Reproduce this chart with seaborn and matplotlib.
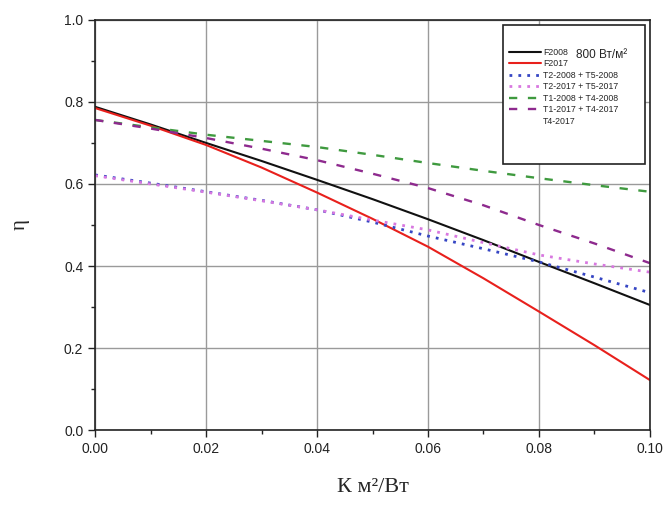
import numpy as np
import pandas as pd
import matplotlib
matplotlib.use("Agg")
import matplotlib.pyplot as plt
import seaborn as sns
from matplotlib.lines import Line2D
from matplotlib.patches import Rectangle
from matplotlib.ticker import MultipleLocator

sns.set_style("white")
plt.rcParams['font.family'] = ['Liberation Sans', 'DejaVu Sans']

# K, m2/W
k = [0.00, 0.01, 0.02, 0.03, 0.04, 0.05, 0.06, 0.07, 0.08, 0.09, 0.10]

f2008 = [0.788, 0.745, 0.700, 0.656, 0.610, 0.563, 0.514, 0.463, 0.410, 0.358, 0.305]
f2017 = [0.785, 0.742, 0.695, 0.640, 0.579, 0.515, 0.447, 0.370, 0.289, 0.207, 0.122]
t2t5_2008 = [0.622, 0.602, 0.581, 0.560, 0.537, 0.507, 0.473, 0.442, 0.410, 0.373, 0.335]
t2t5_2017 = [0.620, 0.600, 0.580, 0.559, 0.537, 0.512, 0.488, 0.457, 0.427, 0.405, 0.385]
t1t4_2008 = [0.756, 0.738, 0.720, 0.705, 0.690, 0.671, 0.651, 0.632, 0.614, 0.597, 0.581]
t1t4_2017 = [0.756, 0.735, 0.712, 0.686, 0.658, 0.625, 0.590, 0.548, 0.500, 0.455, 0.407]

names = ["F2008", "F2017", "T2-2008 + T5-2008", "T2-2017 + T5-2017",
         "T1-2008 + T4-2008", "T1-2017 + T4-2017"]
series = [f2008, f2017, t2t5_2008, t2t5_2017, t1t4_2008, t1t4_2017]
colors = ["#111111", "#e8201c", "#3646c4", "#d878e0", "#3f9a3f", "#8e2a8e"]
styles = ["-", "-", (0, (1, 2.2)), (0, (1, 2.2)), (0, (3.5, 4.5)), (0, (3.5, 4.5))]
widths = [1.5, 1.5, 2.0, 2.0, 1.7, 1.7]

fig = plt.figure(figsize=(6.7, 5.09), dpi=100)
ax = fig.add_axes([0.142, 0.155, 0.828, 0.806])

for name, vals, c, ls, lw in zip(names, series, colors, styles, widths):
    sns.lineplot(x=k, y=vals, color=c, linestyle=ls, linewidth=lw, ax=ax,
                 legend=False)

ax.set_xlim(0, 0.10)
ax.set_ylim(0, 1.0)
ax.xaxis.set_major_locator(MultipleLocator(0.02))
ax.xaxis.set_minor_locator(MultipleLocator(0.01))
ax.yaxis.set_major_locator(MultipleLocator(0.2))
ax.yaxis.set_minor_locator(MultipleLocator(0.1))
ax.set_xticklabels([f"{v:.2f}" for v in ax.get_xticks()])
ax.set_yticklabels([f"{v:.1f}" for v in ax.get_yticks()])
ax.tick_params(which="major", direction="out", length=5, width=1, labelsize=10,
               bottom=True, left=True, color="#222222", labelcolor="#222222")
ax.tick_params(which="minor", direction="out", length=3, width=1,
               bottom=True, left=True, color="#222222")
ax.grid(True, which="major", color="#9a9a9a", linewidth=1.0)
for s in ax.spines.values():
    s.set_color("#222222")
    s.set_linewidth(1.2)

ax.set_xlabel("К м²/Вт", family=["Liberation Serif", "DejaVu Serif"],
              fontsize=16, labelpad=16)
ax.set_ylabel("η", family=["Liberation Serif", "DejaVu Serif"], fontsize=15,
              labelpad=25)

# legend box
ax.add_patch(Rectangle((0.735, 0.649), 0.256, 0.339, transform=ax.transAxes,
                       facecolor="white", edgecolor="#222222", linewidth=1.2,
                       zorder=5))
handles = [Line2D([], [], color=c, linestyle=ls, linewidth=lw)
           for c, ls, lw in zip(colors, styles, widths)]
handles.append(Line2D([], [], color="none"))
leg = ax.legend(handles, names + ["T4-2017"], loc="upper left",
                bbox_to_anchor=(0.74, 0.94), frameon=False, fontsize=6.3,
                handlelength=3.6, handletextpad=0.3, labelspacing=0.28,
                borderaxespad=0)
leg.set_zorder(6)
ax.text(0.867, 0.915, "800 Вт/м²", transform=ax.transAxes, fontsize=8.5,
        zorder=7, va="center")

fig.savefig("out.png", dpi=100)
